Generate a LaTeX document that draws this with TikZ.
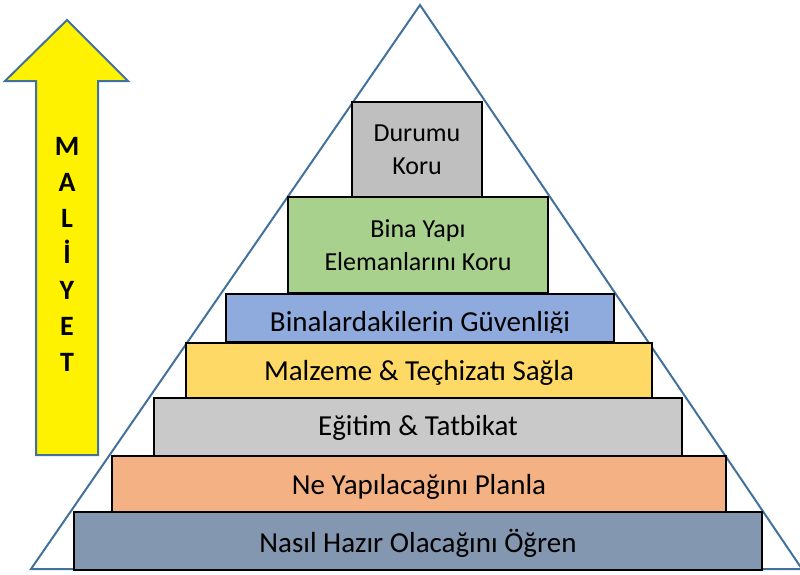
\documentclass[tikz,border=0pt]{standalone}
\usepackage{fontspec}
\setmainfont{Carlito}
\definecolor{edgeblue}{HTML}{41719C}
\definecolor{cA}{HTML}{BFBFBF}
\definecolor{cB}{HTML}{A9D18E}
\definecolor{cC}{HTML}{8FAADC}
\definecolor{cD}{HTML}{FFD966}
\definecolor{cE}{HTML}{C9C9C9}
\definecolor{cF}{HTML}{F4B183}
\definecolor{cG}{HTML}{8497B0}
\begin{document}
\begin{tikzpicture}[x=1pt,y=-1pt,
  tier/.style={draw=black, line width=1.5pt, rectangle, inner sep=0pt, outer sep=0pt},
  bigtxt/.style={font=\fontsize{29}{33}\selectfont, inner sep=0pt, anchor=base},
  toptxt/.style={font=\fontsize{26}{33}\selectfont, inner sep=0pt, align=center},
  costtxt/.style={font=\fontsize{28}{36}\selectfont\bfseries, inner sep=0pt, align=center}]
\useasboundingbox (0,0) rectangle (800,574);
\begin{scope}
\clip (0,0) rectangle (800,574);
% pyramid outline
\coordinate (apex) at (420,5);
\coordinate (bl) at (31,569);
\coordinate (br) at (802,569);
\draw[edgeblue, line width=2pt, line join=miter] (apex) -- (br) -- (bl) -- cycle;
\end{scope}
% tiers
\node[tier, fill=cA, minimum width=130pt, minimum height=95pt] (t1) at (417,149.5) {};
\node[tier, fill=cB, minimum width=260pt, minimum height=96pt] (t2) at (418,245) {};
\node[tier, fill=cC, minimum width=388pt, minimum height=48pt] (t3) at (420,318) {};
\node[tier, fill=cD, minimum width=466pt, minimum height=55pt] (t4) at (419,370.5) {};
\node[tier, fill=cE, minimum width=528pt, minimum height=58pt] (t5) at (418,427) {};
\node[tier, fill=cF, minimum width=614pt, minimum height=56pt] (t6) at (419,484) {};
\node[tier, fill=cG, minimum width=688pt, minimum height=58pt] (t7) at (418,541) {};
% labels
\node[toptxt] (l1) at (417,150) {Durumu\\Koru};
\node[toptxt] (l2) at (418,245) {Bina Yapı\\Elemanlarını Koru};
\begin{scope}
\clip (226,294) rectangle (614,332);
\node[bigtxt] (l3) at (420,331) {Binalardakilerin Güvenliği};
\end{scope}
\node[bigtxt] (l4) at (419,380) {Malzeme \& Teçhizatı Sağla};
\node[bigtxt] (l5) at (418,435) {Eğitim \& Tatbikat};
\node[bigtxt] (l6) at (419,494) {Ne Yapılacağını Planla};
\node[bigtxt] (l7) at (418,552) {Nasıl Hazır Olacağını Öğren};
% cost arrow
\coordinate (tip) at (67,20);
\draw[edgeblue, fill=yellow, line width=2pt, line join=miter]
  (tip) -- (128,81) -- (98,81) -- (98,455) -- (36,455) -- (36,81) -- (5,81) -- cycle;
\node[costtxt] (cost) at (67,254.5) {M\\A\\L\\İ\\Y\\E\\T};
\end{tikzpicture}
\end{document}
